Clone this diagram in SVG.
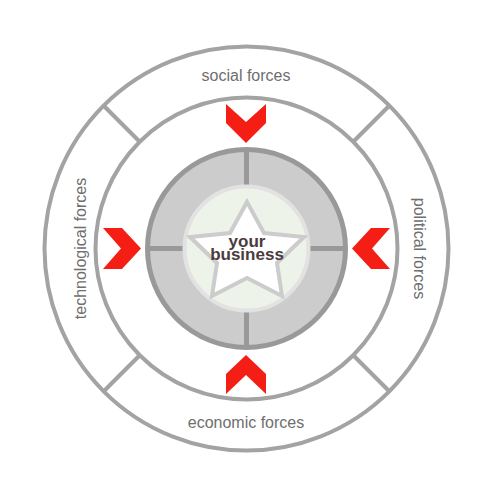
<svg xmlns="http://www.w3.org/2000/svg" width="500" height="500" viewBox="0 0 500 500">
<style>
.ring{fill:none;stroke:#a3a3a3;stroke-width:4}
.div{stroke:#a3a3a3;stroke-width:4}
.ddiv{stroke:#999;stroke-width:5}
.lbl{font-family:"Liberation Sans",Arial,sans-serif;font-size:16px;fill:#6e6e6e;text-anchor:middle}
.chev{fill:#f41e14}
</style>
<rect width="500" height="500" fill="#fff"/>
<g id="rings">
<circle class="ring" cx="246.5" cy="248.5" r="202"/>
<circle class="ring" cx="246.5" cy="248.5" r="151"/>
</g>
<g id="dividers" transform="translate(246.5,248.5)">
<line class="div" x1="107" y1="-107" x2="142" y2="-142"/>
<line class="div" x1="-107" y1="-107" x2="-142" y2="-142"/>
<line class="div" x1="107" y1="107" x2="142" y2="142"/>
<line class="div" x1="-107" y1="107" x2="-142" y2="142"/>
</g>
<g id="labels">
<text id="social" class="lbl" x="246" y="81">social forces</text>
<text id="economic" class="lbl" x="246" y="428">economic forces</text>
<text id="political" class="lbl" transform="translate(414,248.5) rotate(90)">political forces</text>
<text id="technological" class="lbl" transform="translate(86,248.5) rotate(-90)">technological forces</text>
</g>
<g id="connectors">
<polygon class="chev" points="226,104 246,122 266,104 266,123 246,143 226,123"/>
<polygon class="chev" points="226,394 246,375 266,394 266,374 246,355 226,374"/>
<polygon class="chev" points="103,228 122,228 141,248.5 122,269 103,269 121,248.5"/>
<polygon class="chev" points="390,228 371,228 352,248.5 371,269 390,269 372,248.5"/>
</g>
<g id="core">
<circle cx="246.5" cy="248.5" r="99" fill="#cccccc" stroke="#999" stroke-width="5"/>
<g transform="translate(246.5,248.5)">
<line class="ddiv" x1="0" y1="-62" x2="0" y2="-98"/>
<line class="ddiv" x1="0" y1="62" x2="0" y2="98"/>
<line class="ddiv" x1="62" y1="0" x2="98" y2="0"/>
<line class="ddiv" x1="-62" y1="0" x2="-98" y2="0"/>
</g>
<circle cx="246.5" cy="248.5" r="62" fill="#eef3ea" stroke="#e2e2e2" stroke-width="4"/>
</g>
<g id="your-business">
<polygon points="247,202 264,233 304,237 277,263 282,296 247,278 212,296 217,263 190,237 230,233" fill="#fff" stroke="#cccccc" stroke-width="4" stroke-linejoin="miter"/>
<text font-family="'Liberation Sans',Arial,sans-serif" font-size="17" font-weight="bold" fill="#4a3b3d" text-anchor="middle"><tspan x="247" y="247">your</tspan><tspan x="247" y="260">business</tspan></text>
</g>
</svg>
